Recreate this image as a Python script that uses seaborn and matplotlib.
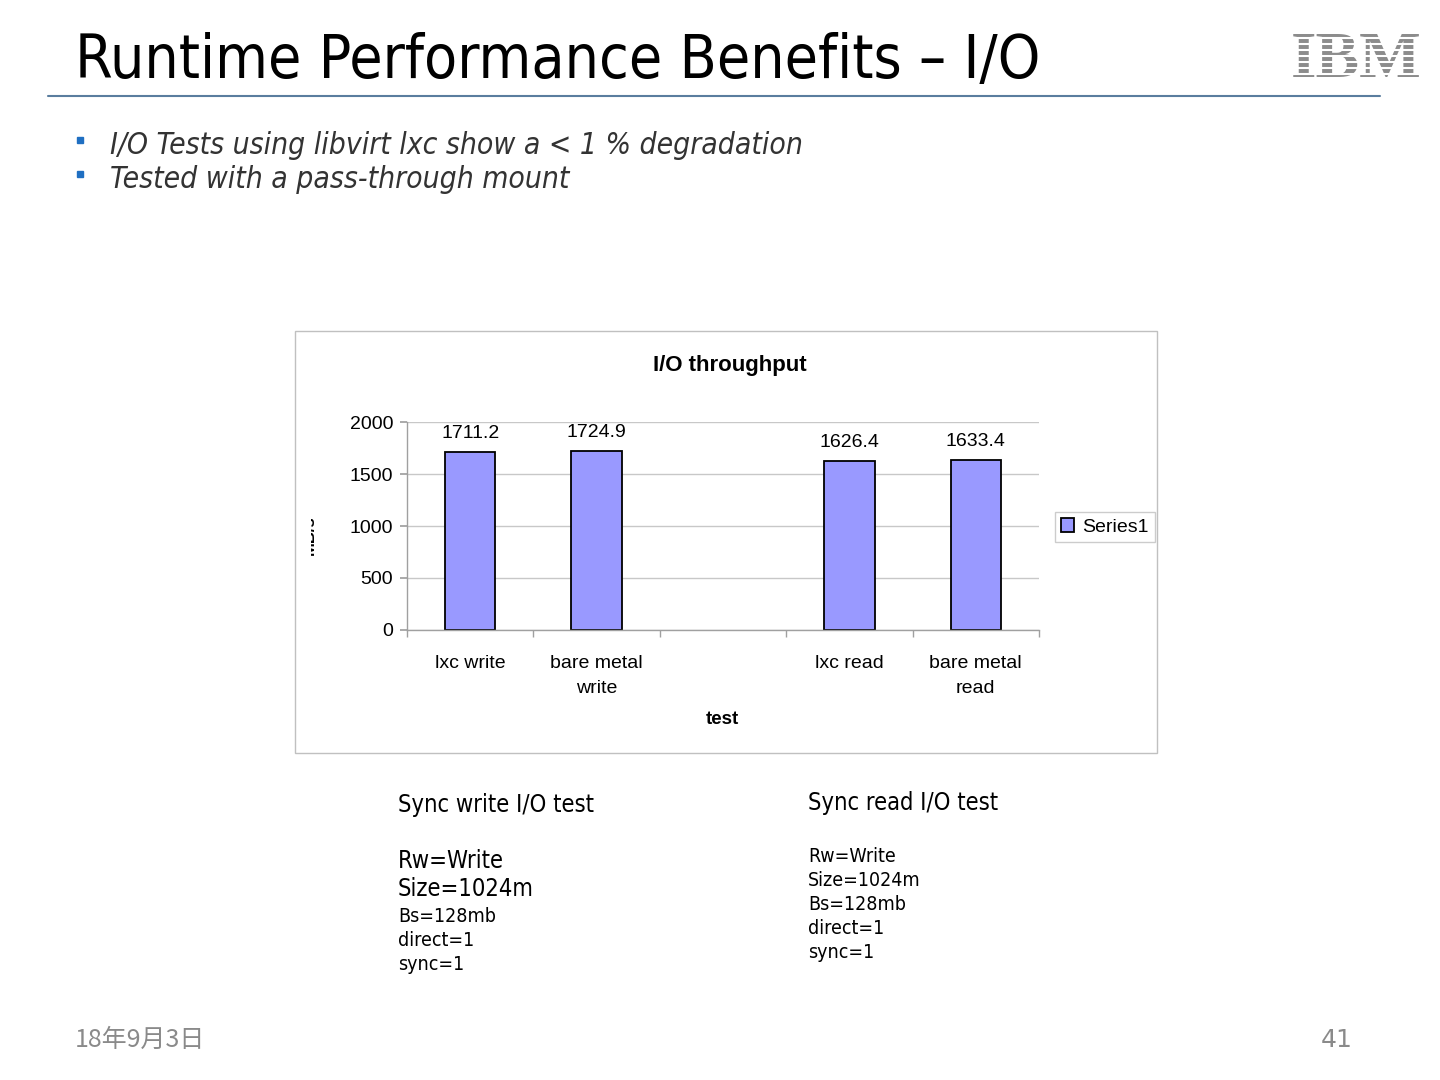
import pandas as pd
import matplotlib.pyplot as plt
import matplotlib.patches as mpatches
from matplotlib.transforms import Bbox, TransformedBbox
import seaborn as sns

tests = ["lxc write", "bare metal\nwrite", "", "lxc read", "bare metal\nread"]
throughput = [1711.2, 1724.9, None, 1626.4, 1633.4]
y_ticks = [0, 500, 1000, 1500, 2000]

bullets = ["I/O Tests using libvirt lxc show a < 1 % degradation",
           "Tested with a pass-through mount"]
write_big = ["Sync write I/O test", "", "Rw=Write", "Size=1024m"]
write_small = ["Bs=128mb", "direct=1", "sync=1"]
read_head = "Sync read I/O test"
read_small = ["Rw=Write", "Size=1024m", "Bs=128mb", "direct=1", "sync=1"]

df = pd.DataFrame({"test": tests, "MB/s": throughput})

sns.set_theme(style="white")
plt.rcParams['font.family'] = ['DejaVu Sans', 'Noto Sans CJK JP']
plt.rcParams['text.color'] = 'black'

W, H = 1440, 1080
fig = plt.figure(figsize=(14.4, 10.8), dpi=100)


def fx(px):
    return px / W


def fy(py):
    return 1 - py / H


# slide title + rule
fig.text(fx(75), fy(78), "Runtime Performance Benefits – I/O", fontsize=43.5,
         fontstretch="condensed", color="black", va="baseline")
fig.add_artist(plt.Line2D([fx(48), fx(1380)], [fy(96), fy(96)], color="#5a7d9e", lw=1.5))

# IBM logo (striped)
fig.text(fx(1356), fy(61), "IBM", fontsize=47, fontweight="bold", family="Liberation Serif",
         color="#8c8c8c", ha="center", va="center")
for i in range(8):
    yy = 38 + i * 6.0
    fig.add_artist(plt.Line2D([fx(1290), fx(1422)], [fy(yy), fy(yy)], color="white",
                              lw=1.5, zorder=10))

# bullets
for i, b in enumerate(bullets):
    y = 146 + i * 34
    fig.add_artist(mpatches.Rectangle((fx(77), fy(y - 3)), fx(6), 6 / H, color="#1f6fc2",
                                      transform=fig.transFigure))
    fig.text(fx(110), fy(y), b, fontsize=21.5, style="italic", fontstretch="condensed",
             color="#333333", va="center")

# chart frame
fig.add_artist(mpatches.Rectangle((fx(295), fy(753)), fx(862), 422 / H, fill=False,
                                  edgecolor="#c0c0c0", lw=1, transform=fig.transFigure))

ax = fig.add_axes([fx(407), fy(630), fx(1039) - fx(407), (630 - 422) / H])
sns.barplot(data=df, x="test", y="MB/s", order=tests, color="#9999ff", edgecolor="black",
            linewidth=1.3, width=0.4, saturation=1, label="Series1", ax=ax)
ax.bar_label(ax.containers[0], fmt="%.1f", padding=7, fontsize=14, family="Liberation Sans",
             color="black")

ax.set_ylim(0, 2000)
ax.set_xlim(-0.5, 4.5)
ax.set_yticks(y_ticks)
ax.set_yticklabels([str(t) for t in y_ticks], family="Liberation Sans", fontsize=14,
                   color="black")
ax.set_xticks(range(len(tests)))
ax.set_xticklabels(tests, family="Liberation Sans", fontsize=14, linespacing=1.6,
                   color="black")
ax.set_xticks([i - 0.5 for i in range(len(tests) + 1)], minor=True)
ax.tick_params(axis="x", which="major", length=0, pad=18)
ax.tick_params(axis="x", which="minor", length=5, color="#a0a0a0", bottom=True)
ax.tick_params(axis="y", length=5, color="#a0a0a0", left=True, pad=5)
ax.yaxis.grid(True, color="#c8c8c8", lw=1)
ax.set_axisbelow(True)
for s in ["top", "right"]:
    ax.spines[s].set_visible(False)
for s in ["left", "bottom"]:
    ax.spines[s].set_color("#a0a0a0")
    ax.spines[s].set_linewidth(1)
ax.set_xlabel("")
ax.set_ylabel("")

fig.text(fx(730), fy(365), "I/O throughput", fontsize=16, fontweight="bold",
         family="Liberation Sans", ha="center", va="center")
fig.text(fx(722), fy(720), "test", fontsize=13.5, fontweight="bold",
         family="Liberation Sans", ha="center", va="center")
# y-axis title is cut off by the chart area in the original
ylab = fig.text(fx(317), fy(535), "MB/s", fontsize=12, fontweight="bold", rotation=90,
                family="Liberation Sans", ha="right", va="center")
ylab.set_clip_on(True)
ylab.set_clip_box(TransformedBbox(Bbox.from_extents(fx(311), 0, 1, 1), fig.transFigure))

leg = ax.legend(loc="center left", bbox_to_anchor=(fx(1055), fy(527)),
                bbox_transform=fig.transFigure, prop={"family": "Liberation Sans", "size": 14},
                handlelength=0.7, handleheight=0.7, handletextpad=0.4, borderpad=0.3,
                fancybox=False, frameon=True, borderaxespad=0)
leg.get_frame().set_edgecolor("#c0c0c0")
leg.get_frame().set_linewidth(1)

# test descriptions
y = 805
for line in write_big:
    fig.text(fx(398), fy(y), line, fontsize=17, fontstretch="condensed", va="center")
    y += 28
y = 917
for line in write_small:
    fig.text(fx(398), fy(y), line, fontsize=14, fontstretch="condensed", va="center")
    y += 24
fig.text(fx(808), fy(803), read_head, fontsize=17, fontstretch="condensed", va="center")
y = 857
for line in read_small:
    fig.text(fx(808), fy(y), line, fontsize=14, fontstretch="condensed", va="center")
    y += 24

# footer
fig.text(fx(75), fy(1040), "18年9月3日", fontsize=18, color="#8a8a8a", va="center",
         family=["Noto Sans CJK JP", "DejaVu Sans"])
fig.text(fx(1353), fy(1040), "41", fontsize=18, color="#8a8a8a", va="center", ha="right")

fig.savefig("out.png", dpi=100, facecolor="white")
